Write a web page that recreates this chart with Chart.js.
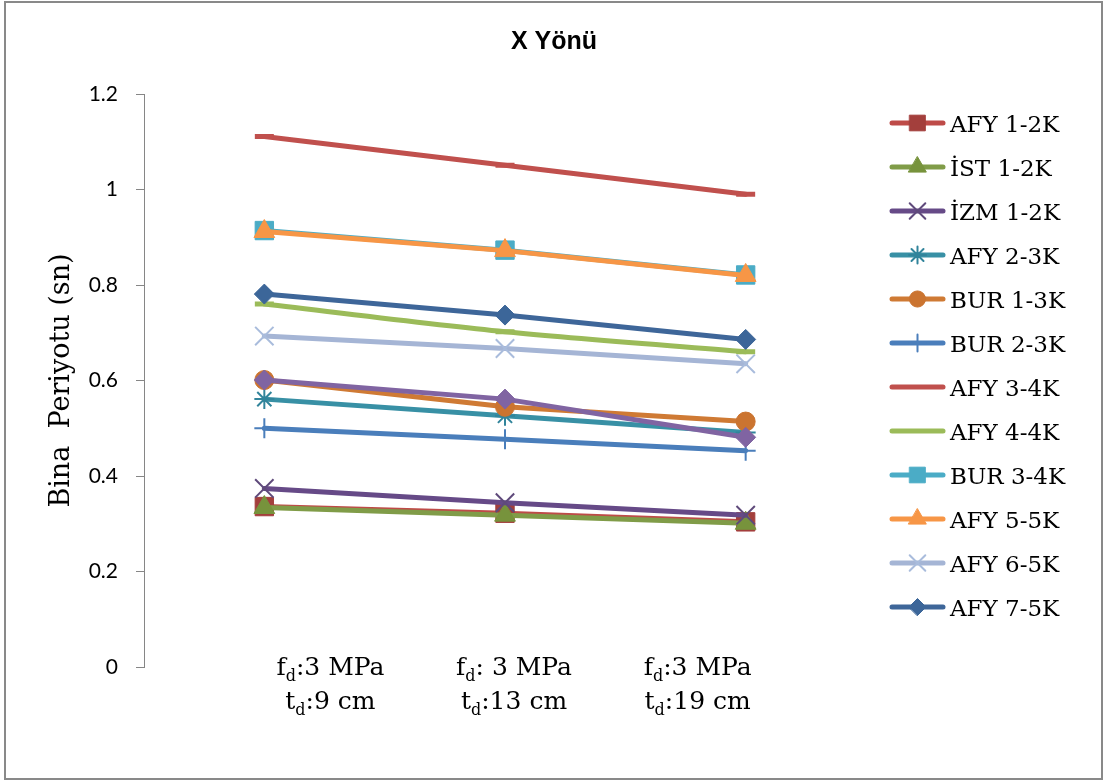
<!DOCTYPE html>
<html>
<head>
<meta charset="utf-8">
<title>X Yönü</title>
<script src="https://cdn.jsdelivr.net/npm/chart.js@4.4.1/dist/chart.umd.min.js"></script>
<style>
  html, body { margin: 0; padding: 0; background: #ffffff; }
  #wrap { width: 1103px; height: 780px; }
</style>
</head>
<body>
<div id="wrap"><canvas id="c" width="1103" height="780"></canvas></div>
<script>
// ---- text ----
const chartTitle = 'X Yönü';
const yAxisTitle = 'Bina  Periyotu (sn)';
// category labels, one entry per line; "_x" marks a subscript character
const categoryLines = [
  ['f_d:3 MPa', 't_d:9 cm'],
  ['f_d: 3 MPa', 't_d:13 cm'],
  ['f_d:3 MPa', 't_d:19 cm']
];
const yTicks = [0, 0.2, 0.4, 0.6, 0.8, 1, 1.2];

// ---- series values (building period, s) ----
const afy12 = [0.336, 0.322, 0.304];
const ist12 = [0.334, 0.318, 0.301];
const izm12 = [0.374, 0.344, 0.318];
const afy23 = [0.561, 0.526, 0.491];
const bur13 = [0.601, 0.545, 0.514];
const bur23 = [0.500, 0.477, 0.453];
const afy34 = [1.111, 1.051, 0.990];
const afy44 = [0.760, 0.702, 0.660];
const bur34 = [0.914, 0.873, 0.821];
const afy55 = [0.912, 0.872, 0.820];
const afy65 = [0.693, 0.667, 0.635];
const afy75 = [0.781, 0.737, 0.686];
const extra = [0.601, 0.561, 0.481];

const seriesNames = ['AFY 1-2K', 'İST 1-2K', 'İZM 1-2K', 'AFY 2-3K', 'BUR 1-3K', 'BUR 2-3K',
                     'AFY 3-4K', 'AFY 4-4K', 'BUR 3-4K', 'AFY 5-5K', 'AFY 6-5K', 'AFY 7-5K', 'Seri 13'];
const seriesValues = [afy12, ist12, izm12, afy23, bur13, bur23, afy34, afy44, bur34, afy55, afy65, afy75, extra];

// ---- styles: line colour, marker colour, marker shape, marker radius, stroke width, tension, in legend ----
const seriesStyles = [
  { line: '#BE4B48', mark: '#A33F3C', shape: 'rect',     r: 13,  bw: 1, t: 0,   leg: true },
  { line: '#809C48', mark: '#77933C', shape: 'triangle', r: 12,  bw: 1, t: 0,   leg: true },
  { line: '#664A87', mark: '#5F4A7B', shape: 'crossRot', r: 13,  bw: 2, t: 0,   leg: true },
  { line: '#3890A5', mark: '#31849B', shape: 'star',     r: 10,  bw: 2, t: 0,   leg: true },
  { line: '#CF7A34', mark: '#CB7430', shape: 'circle',   r: 9.5, bw: 1, t: 0,   leg: true },
  { line: '#4A7EBB', mark: '#4A7EBB', shape: 'cross',    r: 10,  bw: 2, t: 0,   leg: true },
  { line: '#C0504D', mark: '#C0504D', shape: 'line',     r: 9.5, bw: 5, t: 0,   leg: true },
  { line: '#9BBB59', mark: '#9BBB59', shape: 'line',     r: 9.5, bw: 5, t: 0.3, leg: true },
  { line: '#4BACC6', mark: '#4BACC6', shape: 'rect',     r: 13,  bw: 1, t: 0,   leg: true },
  { line: '#F79646', mark: '#F79646', shape: 'triangle', r: 12,  bw: 1, t: 0,   leg: true },
  { line: '#A5B5D5', mark: '#A9BCDC', shape: 'crossRot', r: 13,  bw: 2, t: 0,   leg: true },
  { line: '#3E6699', mark: '#3C6699', shape: 'rectRot',  r: 10,  bw: 1, t: 0,   leg: true },
  { line: '#8064A2', mark: '#8064A2', shape: 'rectRot',  r: 10,  bw: 1, t: 0,   leg: false }
];

const datasets = seriesValues.map((vals, i) => {
  const s = seriesStyles[i];
  return {
    label: seriesNames[i],
    data: vals,
    borderColor: s.line,
    backgroundColor: s.line,
    borderWidth: 5,
    borderCapStyle: 'round',
    borderJoinStyle: 'round',
    tension: s.t,
    pointStyle: s.shape,
    pointRadius: s.r,
    pointHoverRadius: s.r,
    pointBackgroundColor: s.mark,
    pointBorderColor: s.mark,
    pointBorderWidth: s.bw,
    showInLegend: s.leg,
    // later series are painted on top of earlier ones
    order: seriesValues.length - i
  };
});

// draws a marker shape centred at (x, y)
function drawMarker(ctx, shape, r, bw, color, x, y) {
  if (!shape || shape === 'line') return;
  ctx.save();
  ctx.fillStyle = color;
  ctx.strokeStyle = color;
  ctx.lineWidth = bw;
  Chart.helpers.drawPoint(ctx, { pointStyle: shape, radius: r, rotation: 0, borderWidth: bw }, x, y);
  ctx.restore();
}

// splits "f_d:3" into plain and subscript runs
function parseRuns(text) {
  const runs = [];
  let buf = '';
  for (let k = 0; k < text.length; k++) {
    if (text[k] === '_' && k + 1 < text.length) {
      if (buf) runs.push({ t: buf, sub: false });
      buf = '';
      runs.push({ t: text[k + 1], sub: true });
      k++;
    } else {
      buf += text[k];
    }
  }
  if (buf) runs.push({ t: buf, sub: false });
  return runs;
}

const LEGEND_FONT = '23px "DejaVu Serif"';
const CAT_FONT = '25px "DejaVu Serif"';
const SUB_FONT = '16px "DejaVu Serif"';

const framePlugin = {
  id: 'frame',
  beforeDraw(chart) {
    const ctx = chart.ctx;
    ctx.save();
    ctx.fillStyle = '#ffffff';
    ctx.fillRect(0, 0, chart.width, chart.height);
    ctx.strokeStyle = '#898989';
    ctx.lineWidth = 2;
    ctx.strokeRect(5, 2, 1097, 777);
    ctx.restore();
  },
  afterDraw(chart) {
    const ctx = chart.ctx;
    ctx.save();
    // chart title
    ctx.fillStyle = '#000000';
    ctx.font = 'bold 25px "Liberation Sans"';
    ctx.textAlign = 'center';
    ctx.textBaseline = 'alphabetic';
    ctx.fillText(chartTitle, 554, 49);

    // category labels with subscripts
    const xs = chart.scales.x;
    const mid = (xs.left + xs.right) / 2;
    ctx.textAlign = 'left';
    categoryLines.forEach((lines, i) => {
      const px = xs.getPixelForValue(i);
      const cx = mid + (px - mid) * 0.763 + 9;
      lines.forEach((line, li) => {
        const runs = parseRuns(line);
        let w = 0;
        runs.forEach(r => { ctx.font = r.sub ? SUB_FONT : CAT_FONT; r.w = ctx.measureText(r.t).width; w += r.w; });
        let x = cx - w / 2;
        const base = 675 + li * 34;
        runs.forEach(r => {
          ctx.font = r.sub ? SUB_FONT : CAT_FONT;
          ctx.fillText(r.t, x, r.sub ? base + 6 : base);
          x += r.w;
        });
      });
    });

    // legend
    let row = 0;
    chart.data.datasets.forEach(ds => {
      if (!ds.showInLegend) return;
      const y = 123 + row * 44;
      ctx.strokeStyle = ds.borderColor;
      ctx.lineWidth = 5;
      ctx.lineCap = 'round';
      ctx.beginPath();
      ctx.moveTo(892, y);
      ctx.lineTo(943, y);
      ctx.stroke();
      drawMarker(ctx, ds.pointStyle, ds.pointRadius * 0.85, ds.pointBorderWidth, ds.pointBackgroundColor, 917.5, y);
      ctx.fillStyle = '#000000';
      ctx.font = LEGEND_FONT;
      ctx.textAlign = 'left';
      ctx.textBaseline = 'alphabetic';
      ctx.fillText(ds.label, 950, y + 8.5);
      row++;
    });
    ctx.restore();
  }
};

new Chart(document.getElementById('c'), {
  type: 'line',
  data: { labels: categoryLines, datasets: datasets },
  options: {
    responsive: false,
    devicePixelRatio: 1,
    animation: false,
    events: [],
    layout: { padding: { top: 94, right: 237, left: 0, bottom: 0 } },
    plugins: {
      legend: { display: false },
      title: { display: false },
      tooltip: { enabled: false }
    },
    scales: {
      x: {
        type: 'category',
        offset: true,
        grid: { display: false },
        border: { display: false },
        ticks: { display: false },
        afterFit: s => { s.height = 113; }
      },
      y: {
        min: 0,
        max: 1.2,
        afterBuildTicks: s => { s.ticks = yTicks.map(v => ({ value: v })); },
        afterFit: s => { s.width = 144; },
        grid: { drawOnChartArea: false, drawTicks: true, tickLength: 8, color: '#868686', lineWidth: 1 },
        border: { display: true, color: '#868686', width: 1 },
        ticks: {
          padding: 18,
          color: '#000000',
          font: { family: 'Lato', size: 21 },
          callback: v => String(Math.round(v * 10) / 10)
        },
        title: {
          display: true,
          text: yAxisTitle,
          color: '#000000',
          font: { family: 'DejaVu Serif', size: 27 },
          padding: { top: 46, bottom: 0 }
        }
      }
    }
  },
  plugins: [framePlugin]
});
</script>
</body>
</html>
